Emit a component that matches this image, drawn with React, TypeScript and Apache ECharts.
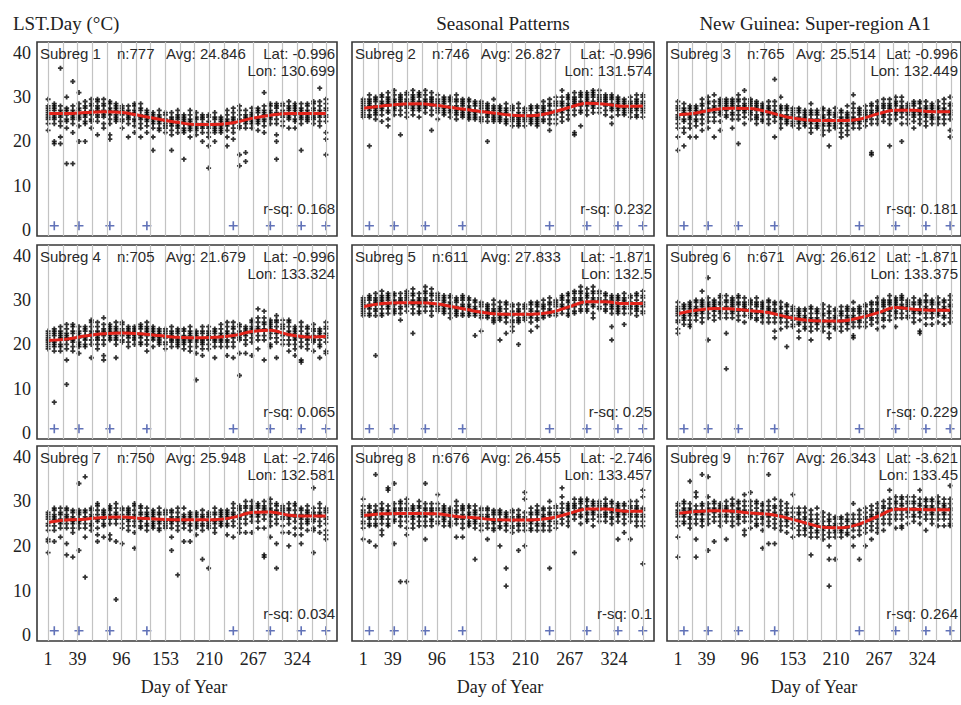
import React, { useEffect, useRef } from "react";
import * as echarts from "echarts";

// ---- axes / marks ----
const COMPOSITE_DAYS = [1, 9, 17, 25, 33, 41, 49, 57, 65, 73, 81, 89, 97, 105, 113, 121, 129, 137, 145, 153, 161, 169, 177, 185, 193, 201, 209, 217, 225, 233, 241, 249, 257, 265, 273, 281, 289, 297, 305, 313, 321, 329, 337, 345, 353, 361];
const GRID_LINE_DAYS = [1, 20, 39, 58, 77, 96, 115, 134, 153, 172, 191, 210, 229, 248, 267, 286, 305, 324, 343, 362];
const X_TICK_LABELS = [1, 39, 96, 153, 210, 267, 324];
const Y_TICK_LABELS = [0, 10, 20, 30, 40];
const EVENT_DAYS = [9, 41, 81, 129, 241, 289, 329, 361];
const EVENT_LEVEL = 1;
const TREND_DAYS = [1, 25, 49, 73, 97, 121, 145, 169, 193, 217, 241, 265, 289, 313, 337, 361];

// ---- panel info ----
const SUBREG = [1, 2, 3, 4, 5, 6, 7, 8, 9];
const N_OBS = [777, 746, 765, 705, 611, 671, 750, 676, 767];
const AVG = ["24.846", "26.827", "25.514", "21.679", "27.833", "26.612", "25.948", "26.455", "26.343"];
const LAT = ["-0.996", "-0.996", "-0.996", "-0.996", "-1.871", "-1.871", "-2.746", "-2.746", "-3.621"];
const LON = ["130.699", "131.574", "132.449", "133.324", "132.5", "133.375", "132.581", "133.457", "133.45"];
const RSQ = ["0.168", "0.232", "0.181", "0.065", "0.25", "0.229", "0.034", "0.1", "0.264"];

// ---- fitted seasonal curves (red) ----
const TREND_1 = [26.3, 26.3, 26.5, 26.7, 26.5, 25.8, 25.0, 24.3, 23.8, 23.8, 24.2, 25.2, 25.9, 26.3, 26.3, 26.3];
const TREND_2 = [27.5, 28.0, 28.4, 28.5, 28.1, 27.5, 26.9, 26.4, 25.9, 25.8, 26.4, 27.6, 28.6, 28.4, 27.9, 28.0];
const TREND_3 = [26.0, 26.4, 27.2, 27.5, 27.4, 26.6, 25.5, 24.9, 24.7, 24.7, 25.0, 26.2, 27.0, 27.0, 26.7, 26.7];
const TREND_4 = [20.9, 21.2, 21.9, 22.4, 22.6, 22.4, 22.0, 21.6, 21.5, 21.6, 22.0, 22.9, 23.2, 22.2, 21.7, 21.8];
const TREND_5 = [28.5, 29.2, 29.4, 29.4, 29.1, 28.3, 27.5, 26.9, 26.8, 26.8, 27.2, 28.4, 29.6, 29.6, 29.2, 29.2];
const TREND_6 = [26.9, 27.7, 28.1, 28.0, 27.6, 27.2, 26.2, 25.5, 25.3, 25.3, 26.0, 27.1, 28.3, 27.9, 27.7, 27.7];
const TREND_7 = [25.3, 25.8, 26.0, 26.4, 26.5, 26.2, 26.0, 25.9, 25.9, 25.9, 26.4, 27.5, 27.6, 26.9, 26.7, 26.7];
const TREND_8 = [26.8, 27.2, 27.3, 27.3, 27.2, 26.6, 26.3, 25.9, 25.8, 25.8, 26.2, 27.2, 28.3, 28.3, 27.8, 27.8];
const TREND_9 = [27.3, 27.7, 27.9, 27.8, 27.4, 27.1, 26.3, 25.2, 24.2, 24.1, 24.9, 26.6, 28.2, 28.2, 28.1, 28.1];

// ---- observations: one group per 8-day composite (COMPOSITE_DAYS), values in °C ----
const OBS_1 = "29.5 28 27.5 27 26.5 26 25.5 25 24 22.5|28.5 28 27.5 27 26 25.5 25 24 20 19.5|36.5 28 27 26.5 26 25.5 24.5 23.5 21 19.5|30 27.5 27 26.5 26 25 24.5 23 15|33.5 28 27 26.5 26 25.5 25 24 22 15|31 28.5 27.5 27 26 25.5 25 23.5 20|29 28 27.5 26.5 26 25.5 24.5 24 20|29.5 28.5 28 27 26.5 26 25 24.5 23|29.5 29 28 27.5 27 26 25.5 24.5 21.5|29.5 28.5 28 27 26.5 26 25.5 24 23|29 28.5 27.5 27 26.5 26 25 24 21.5 20.5|28.5 28 27.5 27 26 25.5 25 24.5|28 27.5 27 26.5 26 25 24.5 23|28 27 26.5 26 25.5 25 24 21|28.5 28 27 26.5 26 25 24.5 23.5 22|28.5 27.5 27 26 25.5 25 24 23 21|27 26.5 26 25.5 25 24.5 23.5 22|26.5 26 25.5 25 24.5 24 23 21 18|27 26 25.5 25 24.5 24 23 22.5|26.5 26 25 24.5 24 23.5 23 22|26.5 25.5 25 24.5 24 23.5 22.5 21.5 18|27 26 25.5 25 24 23.5 23 22|26 25.5 25 24.5 24 23 22.5 22 16|27 26 25 24.5 24 23.5 23 22.5 21|26.5 25.5 25 24 23.5 23 22.5 21.5|26 25.5 25 24 23.5 23 22 20|26 25.5 24.5 24 23.5 23 22 21 19 14|26.5 25.5 25 24 23.5 23 22.5 22 20|25.5 25 24.5 24 23.5 23 22.5 22|27 26 25 24.5 24 23.5 22.5 21 19|27.5 26.5 25.5 25 24.5 24 23 22 20.5|28 27 26 25 24.5 23.5 23 17 14.5|27 26 25.5 25 24.5 24 23 17.5 15.5|27.5 26.5 26 25.5 25 24.5 24 23|27.5 27 26.5 25.5 25 24.5 24 22.5|31 28 27 26.5 26 25 24.5 23.5 22|28.5 28 27 26.5 26 25.5 25 24|28.5 28 27.5 26.5 26 25 24 21.5 20 16|28.5 28 27 26.5 26 25.5 24.5 23.5|29 28 27.5 27 26 25.5 25 23|28.5 28 27.5 27 26.5 26 25 24.5 23|28.5 27.5 27 26.5 26 25.5 25 24 18|28.5 28 27 26.5 26 25.5 25 24.5|29 28.5 27.5 27 26 25.5 25 24|32 29 28 27 26.5 26 25.5 24.5 23.5|29.5 28.5 27.5 27 26 25.5 24.5 22 20.5 17";
const OBS_2 = "29.5 29 28.5 28 27.5 27 26.5 26 25.5|30.5 29.5 29 28.5 28 27.5 27 26 25.5 19|30 29.5 29 28 27.5 27 26.5 26 25|30.5 30 29 28.5 28 27.5 27 26 24.5|31 30 29.5 29 28.5 28 27 26.5 25 23.5|31.5 30.5 29.5 29 28.5 28 27.5 27 26|30.5 30 29.5 29 28.5 28 27 26 21.5|31 30.5 29.5 29 28.5 28 27.5 26.5 25.5|31.5 30.5 30 29.5 29 28 27.5 27 26|31 30.5 30 29 28.5 28 27.5 27 25.5|31.5 30.5 29.5 29 28.5 28 27.5 26.5|31 30 29.5 29 28.5 28 27 26 22.5|30.5 29.5 29 28.5 28 27.5 27 26.5 25|30 29.5 29 28.5 27.5 27 26.5 26|30 29.5 29 28 27.5 27 26.5 25.5|30.5 29.5 29 28 27.5 27 26.5 26 25|29.5 29 28.5 28 27 26.5 26 25.5|29.5 29 28 27.5 27 26.5 26 25.5 25|29 28.5 28 27 26.5 26 25.5 25|29 28.5 28 27.5 27 26.5 25.5 25 24.5|28.5 28 27.5 27 26.5 26 25.5 24.5 20|29.5 28 27.5 27 26 25.5 25 24.5|28 27.5 27 26.5 26 25.5 25 24.5|28.5 27.5 27 26.5 26 25 24.5 24|28 27.5 27 26 25.5 25 24.5 23.5|28.5 27.5 26.5 26 25.5 25 24.5 24 23.5|27.5 27 26.5 26 25.5 25 24.5 23.5|28 27.5 27 26 25.5 25 24.5 24|28 27.5 26.5 26 25.5 25 24.5 24 23.5|29 28 27.5 27 26.5 26 25 24.5|29.5 28.5 28 27 26.5 26 25 24 22.5|30 29 28.5 28 27 26.5 26 25 24|31.5 30 29 28.5 28 27 26.5 25.5 24.5|30.5 30 29.5 28.5 28 27.5 27 26 25|31 30 29.5 29 28.5 28 27 26 22 21.5|31 30.5 30 29 28.5 28 27 26.5 23.5|31 30.5 30 29.5 29 28.5 28 27 26|31.5 31 30.5 30 29 28.5 28 27.5 26.5|31.5 30.5 30 29.5 29 28.5 27.5 26.5|30.5 30 29.5 29 28.5 28 27 26|30.5 30 29.5 28.5 28 27.5 27 25.5 24|30 29.5 29 28.5 28 27.5 27 26|29.5 29 28.5 28 27.5 27 26.5 26|30 29 28.5 28 27.5 27 26.5 25.5|30.5 29.5 29 28.5 28 27.5 27 26 25.5|30.5 30 29 28.5 28 27.5 27 26.5 25.5";
const OBS_3 = "29 28 27.5 27 26 25.5 25 24 23 21 18|28.5 27.5 27 26.5 26 25 24.5 23 22 19|28 27.5 27 26 25.5 25 24 23 21|28 27.5 27 26.5 26 25 24.5 23.5 21|29.5 28.5 28 27 26.5 26 25 24 22.5|30 29 28.5 27.5 27 26.5 25.5 24.5 23|30.5 29 28 27.5 27 26.5 25.5 24.5 21|29.5 29 28.5 28 27 26.5 26 24.5 22.5|29.5 29 28.5 28 27.5 27 26 25.5|29.5 29 28.5 28 27.5 26.5 26 25 23|30.5 29.5 29 28 27.5 27 26 25 19.5|31.5 29.5 28.5 28 27.5 27 26.5 25.5 24|29.5 29 28.5 28 27 26.5 26 25|29 28.5 28 27.5 27 26 25.5 25 24|28.5 28 27.5 27 26.5 26 25 24.5|29 28 27.5 27 26.5 26 25 24|34 29 28 27 26.5 26 25.5 24.5 21|30 28 27.5 27 26 25.5 25 24 23|28 27.5 27 26 25.5 25 24.5 24|27.5 27 26.5 26 25.5 24.5 24 23.5|27.5 27 26.5 25.5 25 24.5 24 23|27 26.5 26 25.5 25 24.5 24 23.5|28.5 27 26.5 26 25 24.5 24 23 22|27 26.5 26 25 24.5 24 23.5 23|27.5 27 26 25.5 25 24 23.5 22.5 21.5|27 26.5 26 25 24.5 24 23.5 22.5 19|27.5 26.5 26 25.5 24.5 24 23.5 23|27 26.5 25.5 25 24.5 24 23 22 21|28 26.5 26 25.5 25 24 23.5 22.5 21.5|30.5 28.5 27.5 26.5 25.5 25 24.5 24 23|27.5 27 26.5 26 25 24.5 24 23|28 27 26.5 26 25.5 25 24.5 23.5|28.5 28 27 26.5 26 25 24 17.5 17|29 28 27.5 27 26.5 26 25 24|29.5 28.5 28 27.5 26.5 26 25.5 24.5|29.5 28.5 28 27.5 27 26 25 24 19|30 29 28.5 28 27 26.5 26 25|30 29 28 27.5 27 26.5 25.5 24 20|28.5 28 27.5 27 26.5 26 25 24|29 28.5 28 27 26.5 26 25.5 24.5 23|29 28.5 27.5 27 26.5 26 25 24|29 28 27.5 27 26.5 26 25.5 24.5 23.5|28.5 28 27.5 27 26 25.5 25 24|29 28 27.5 27 26.5 25.5 25 24|29.5 28.5 27.5 27 26.5 26 25 24|30 28.5 28 27 26.5 26 25 22.5 21";
const OBS_4 = "23 22.5 22 21.5 21 20.5 20 19.5 19|23.5 23 22.5 22 21 20.5 20 19.5 18.5 7|24 23 22.5 22 21.5 21 20 19.5 18.5|24.5 23.5 22.5 22 21.5 21 20 19 16.5 11|24.5 24 23 22.5 21.5 21 20.5 19.5 18.5|24 23 22.5 22 21.5 20.5 20 19.5 18|24 23.5 23 22 21.5 21 20 19.5|25.5 25 24 23 22.5 22 21 20 17|25 24 23 22.5 22 21.5 21 20 19|26 24.5 23.5 23 22.5 22 21 20 17.5 16.5|24.5 24 23.5 23 22.5 22 21.5 21|25 24 23.5 23 22 21.5 21 20 17|25 24.5 23.5 23 22.5 22 21 20.5|24 23.5 23 22.5 22 21.5 20.5 19.5|24 23.5 23 22.5 22 21.5 21 20|24.5 24 23.5 22.5 22 21.5 20.5 20|25 24 23.5 23 22.5 22 21 20 18.5|24 23.5 23 22.5 22 21.5 21 19.5|23.5 23 22.5 22 21.5 21 20.5 20|23.5 23 22.5 22 21.5 20.5 20 19|24 23 22.5 22 21.5 21 20.5 19.5|23.5 23 22.5 21.5 21 20.5 20 19.5|23.5 23 22 21.5 21 20.5 20 19|24 23 22.5 22 21 20.5 19.5 18.5|23 22.5 22 21.5 21 20.5 19.5 18 12|24 23 22.5 21.5 21 20.5 20 19 17.5|24 23 22.5 22 21.5 21 20 19|23.5 23 22.5 21.5 21 20.5 19.5 17|24.5 23.5 22.5 22 21.5 21 20.5 19.5|25 24 23 22.5 22 21 20.5 19.5 17.5|25 24 23.5 22.5 22 21.5 20.5 19.5 17|24.5 24 23 22.5 22 21.5 21 18 13|24 23.5 23 22.5 22 21 20 18|25.5 25 24 23.5 23 22.5 21.5 20.5 17.5|28 26 25 24 23.5 23 22 21 19|27.5 26 25 24.5 23.5 23 22 21 16.5|25.5 25 24.5 24 23.5 22.5 21.5 20 19.5|26.5 25.5 25 24 23 22.5 21.5 20.5 17|25.5 24.5 24 23.5 22.5 22 21 20|25.5 25 24 23 22.5 22 21 20 18.5|24 23.5 23 22.5 21.5 21 20 19 17.5|25 24 23 22 21.5 20.5 19.5 16.5 16|24 23.5 22.5 22 21.5 21 20 19|24.5 23.5 23 22 21.5 21 20.5 18.5|23.5 23 22.5 22 21 20 19.5 17|25 24 23.5 22.5 22 21.5 20.5 18.5 18";
const OBS_5 = "30.5 30 29.5 29 28.5 28 27.5 27 26.5|31 30.5 30 29 28.5 28 27 26.5|31.5 30.5 30 29.5 29 28 27.5 26.5 17.5|32 31 30.5 30 29.5 29 28 27 26.5|31.5 31 30.5 30 29 28.5 28 27|31.5 31 30 29.5 29 28 27.5 27|31.5 30.5 30 29.5 28.5 28 27 25.5|32 31.5 31 30.5 30 29 28.5 27.5|32.5 31.5 31 30 29.5 29 28 27 22.5|31.5 30.5 30 29.5 29 28.5 27.5 27|33 32 31.5 30.5 30 29.5 28.5 27.5|32.5 31.5 31 30 29 28.5 27.5 26.5|31.5 31 30.5 30 29 28.5 28 27.5|31 30.5 30 29.5 28.5 28 27.5 27|31 30.5 29.5 29 28.5 28 27 26|30.5 30 29.5 28.5 28 27.5 27 26.5|31 30.5 30 29 28.5 28 27 26.5|30.5 30 29 28.5 28 27.5 27 26.5|30 29.5 28.5 28 27.5 27 26.5 22|29.5 29 28.5 27.5 27 26.5 26 23|29 28.5 28 27.5 27 26.5 26|30 29 28 27.5 27 26 25.5 25|29.5 28.5 28 27.5 26.5 26 25.5 21|29.5 29 28 27 26.5 26 25 22.5|29 28.5 27.5 27 26.5 25.5 25 24 23|29 28 27.5 27 26 25.5 25 20|29 28.5 28 27 26.5 26 25.5|29.5 29 28 27.5 26.5 26 25 23|29.5 29 28.5 27.5 27 26 25.5 24|30 29 28.5 28 27 26.5 26|30.5 29.5 29 28 27.5 27 26.5|30 29.5 29 28.5 27.5 27 26.5|31 30.5 30 29 28.5 28 27|31.5 31 30 29.5 28.5 28 27 26.5|32 31.5 30.5 30 29 28.5 27.5 27|33 32 31.5 30.5 30 29 28 27.5|32.5 31.5 31 30.5 29.5 29 28 27.5|33 32 31.5 30.5 30 29 28.5 27 26|32 31.5 30.5 30 29.5 28.5 28|31.5 31 30 29.5 29 28 27.5|31 30.5 30 29 28.5 28 27 24 21|31 30.5 30 29 28.5 28 27.5 27|31.5 30.5 30 29.5 28.5 28 27 24.5|31 30.5 29.5 29 28.5 28 27|31.5 31 30 29 28.5 28 27.5 26.5|32 31 30.5 29.5 29 28.5 27.5 27";
const OBS_6 = "29.5 28.5 28 27.5 27 26.5 25.5 25 23.5 22.5|29 28.5 28 27 26.5 26 25.5 24.5|29.5 29 28.5 28 27 26.5 25.5 24.5 24|30 29.5 28.5 28 27.5 27 26.5 25.5|32 30 29.5 29 28.5 27.5 27 26 25|35 30.5 29.5 29 28.5 28 27 26 21|30 29.5 29 28.5 28 27.5 26.5 25.5|31 30.5 29.5 29 28 27.5 27 26|31 30 29.5 28.5 28 27 26 22.5 14.5|30.5 30 29.5 29 28.5 27.5 27 26|31 30.5 29.5 29 28 27.5 26.5 25.5|30.5 29.5 29 28.5 28 27.5 26.5 25|30 29.5 29 28 27.5 27 26.5 26|30.5 29.5 29 28.5 27.5 27 26 25.5|29.5 29 28.5 28 27 26.5 26 25|30 29.5 28.5 28 27.5 27 26 25|29.5 29 28 27.5 27 26 25 23 21.5|29.5 28.5 28 27 26.5 26 25 23.5|29 28.5 27.5 27 26.5 26 25 24 19.5|28.5 28 27.5 26.5 26 25.5 24.5 24|28 27.5 27 26.5 26 25 24.5 23 21.5|28 27.5 26.5 26 25.5 25 24 23.5|28.5 28 27 26 25.5 25 24 23 21|28 27.5 27 26 25.5 25 24.5 23.5|29 28 27 26.5 25.5 25 24 23|28.5 27.5 27 26 25 24.5 24 22.5 21.5|28 27.5 26.5 26 25.5 25 24 23.5|28.5 27.5 27 26.5 25.5 25 24 23|28.5 28 27.5 26.5 26 25 24.5 23.5|29.5 28 27.5 26.5 26 25 24 22 21.5|28.5 28 27.5 27 26 25.5 25 24|29 28.5 27.5 27 26.5 26 25 24|29.5 29 28 27.5 27 26 25.5 24.5|30.5 29.5 29 28 27.5 27 26 25 23.5|30 29.5 29 28.5 27.5 27 26 25.5 24|31 30 29.5 29 28 27.5 26.5 25.5|30.5 30 29.5 29 28.5 27.5 27 26 24|31 30.5 30 29 28.5 28 27 26|30 29.5 29 28.5 28 27.5 26.5 26|30.5 29.5 29 28 27.5 27 26 25|30 29.5 29 28 27.5 27 25.5 23 22.5|31 30 29.5 28.5 28 27 26 24.5|30 29.5 29 28 27.5 27 26 24.5|30.5 29.5 29 28 27.5 27 26.5 25|30 29.5 28.5 28 27.5 26.5 26 24.5|31 30 29 28.5 27.5 27 26 25";
const OBS_7 = "27.5 27 26.5 26 25 24.5 23.5 21.5 21 18.5|28.5 28 27 26.5 26 25.5 24.5 23.5 21|28.5 27.5 27 26 25.5 25 24 22|28.5 28 27 26.5 26 25 24 20.5 18|28 27.5 26.5 26 25.5 25 24 23 17.5|34 28 27.5 27 26 25.5 25 24 19|35.5 28 27.5 26.5 26 25 24 22 13|28.5 28 27 26.5 26 25 24.5 23.5|29.5 29 28 27 26 25.5 24 22.5 21|28 27.5 27 26.5 26 25 24.5 22|29 28.5 28 27 26.5 26 25 22.5 21.5|29.5 28.5 27.5 27 26.5 26 25 21 8|28.5 28 27 26.5 26 25 24 20.5|28.5 28 27.5 27 26 25.5 24.5 23.5|29.5 29 28 27 26.5 25.5 24.5 23 19.5|29 28.5 27.5 27 26 25.5 24.5 24|28.5 27.5 27 26.5 26 25 24.5 23.5|28 27.5 27 26.5 25.5 25 24.5 24|28.5 27.5 27 26 25.5 25 24 23.5|28 27.5 27 26 25.5 25 24.5 24|28 27.5 26.5 26 25.5 25 24 22 19|28.5 27.5 26.5 26 25.5 24.5 23.5 13.5|28.5 27 26.5 26 25.5 25 24 21|27.5 27 26.5 26 25 24.5 23.5 21|27.5 27 26.5 25.5 25 24.5 24 22.5|28 27 26.5 26 25 24.5 23.5 17|27.5 27 26.5 25.5 25 24.5 24 15|28.5 27.5 27 26 25.5 25 24 23|28 27.5 27 26.5 25.5 25 24.5|28 27.5 27 26.5 26 25 24.5 22.5|29.5 28.5 27.5 27 26.5 25.5 24.5 22|29 28.5 28 27 26.5 26 25 24 23|30 29 28.5 27.5 27 26 25 23|30 29 28.5 28 27 26.5 25.5 23|29.5 29 28.5 27.5 27 26.5 25.5 24|30 29 28.5 28 27 26 24 18 17.5|30.5 29.5 28.5 28 27 26.5 25.5 24.5 22|29.5 29 28 27.5 27 26 25 20.5 15|29 28.5 28 27.5 26.5 26 24.5 23|29.5 28.5 28 27 26.5 26 25 23 20|29.5 29 28 27 26.5 25.5 24 22.5|28.5 28 27 26.5 26 25 24 22.5 20.5|29 28 27.5 27 26 25.5 25 23.5|33 28.5 27.5 27 26 25.5 24 23.5 18.5|29.5 28.5 27.5 27 26.5 25.5 24.5 23|28.5 28 27.5 26.5 26 25 23.5 22.5 21.5";
const OBS_8 = "30.5 29 28 27.5 27 26.5 25.5 25 24 21.5|29 28.5 27.5 27 26.5 26 25 24.5 21|36 29 28 27.5 27 26 25 24.5 20|29.5 28.5 28 27 26.5 26 25 23.5 22.5|33 32.5 29 28 27.5 27 26 25 24.5|34 29.5 28.5 28 27.5 27 26 25.5 20.5|30 29.5 28.5 28 27 26.5 25.5 24.5 12|30.5 29.5 28.5 28 27 26.5 25.5 24 22.5 12|29 28.5 28 27 26.5 26 25 24|30 29 28.5 27.5 27 26.5 25.5 24.5|34 29.5 28.5 28 27 26.5 25.5 24.5 21.5|29.5 28.5 28 27.5 27 26 25.5 24.5|31.5 29.5 28.5 28 27 26.5 25.5 25|29 28.5 28 27.5 26.5 26 25.5 24.5|28.5 28 27.5 27 26.5 25.5 25 24.5|30 29 28 27.5 26.5 26 25 22|29 28.5 28 27 26.5 26 25 24 22|29 28.5 27.5 27 26.5 25.5 25 24.5|29 28 27.5 27 26 25.5 25 24 17|28.5 28 27 26.5 26 25 24.5 23.5|28.5 28 27 26.5 26 25 24 21.5|28 27.5 27 26 25.5 25 24 23.5|28 27.5 27 26 25.5 24.5 24 20|27.5 27 26.5 26 25 24.5 23.5 15 11|28 27.5 26.5 26 25.5 24.5 24 23|28 27 26.5 26 25 24.5 23.5 19|32 30.5 27.5 26.5 26 25 24.5 23.5 20|28.5 27.5 27 26 25.5 25 24 23.5|29 28 27.5 27 26 25 24.5 23.5|28.5 28 27 26.5 26 25 24.5 23.5|30 28.5 27.5 27 26 25.5 24.5 23.5 15|29 28.5 27.5 27 26.5 25.5 25 24|33 31 29.5 28.5 27.5 27 26 25|29.5 29 28.5 28 27 26.5 25.5 24.5|30.5 29.5 29 28.5 27.5 27 26 18.5|30.5 30 29.5 28.5 28 27 26.5 25|30.5 30 29 28.5 27.5 27 26 25.5|30 29.5 29 28 27.5 27 26 24.5|30 29.5 29 28.5 28 27 26.5 25.5|30.5 29.5 29 28.5 27.5 27 26.5 25.5|30 29.5 28.5 28 27.5 26.5 26 25|29.5 29 28.5 27.5 27 26.5 25.5 21.5|29.5 29 28 27.5 27 26 25 23|30 29 28.5 27.5 27 26.5 25.5 21.5|30 29 28.5 28 27 26.5 25.5 24.5|32.5 31 28.5 28 27 26.5 25.5 24.5 16";
const OBS_9 = "29.5 29 28 27.5 27 26.5 25.5 24.5 22 17.5|30 29.5 28.5 28 27 26.5 25.5 25|34.5 29.5 28.5 28 27.5 26.5 26 25 24|32 31 29 28 27.5 27 26 25 21.5 17.5|36 29.5 29 28 27.5 27 26 25.5 24.5|35.5 31 29.5 28.5 28 27 26 25 19|30 29.5 28.5 28 27.5 26.5 25.5 21|29.5 29 28.5 28 27 26.5 25.5 24.5|30 29 28.5 28 27 26.5 25.5 21.5|30.5 29.5 29 28 27.5 26.5 25.5 24.5|30 29.5 28.5 28 27 26.5 26 25|31.5 30 29 28 27.5 26.5 25.5 23.5 22.5|32 30 29 28 27 26.5 25.5 24|30 29.5 28.5 27.5 27 26 25 24.5|29.5 29 28 27.5 26.5 26 25 23.5 19.5|36 30 29 28 27 26.5 25.5 24.5 20.5|30.5 29 28.5 27.5 27 26 25 24 20.5|30 29 28 27 26.5 25.5 24.5 23.5|29.5 28.5 27.5 27 26 25.5 24.5 23|31.5 28.5 27.5 26.5 26 25 24 22|28.5 27.5 27 26 25.5 24.5 23.5 22.5|28.5 27.5 26.5 26 25 24 23.5 22.5|28 27 26 25.5 24.5 24 23 22 18|28.5 27 26 25 24.5 23.5 23 22|27.5 26.5 25.5 24.5 24 23.5 22.5 21.5|27 26 25.5 24.5 24 23 22 20 17 11|26.5 26 25 24.5 23.5 23 22 17|26.5 26 25 24 23.5 23 22|27 26 25.5 24.5 24 23 22.5|29.5 27 26 25 24.5 23.5 22 20|28 27 26 25 24.5 23.5 22.5 17|28.5 27.5 26.5 26 25 24 23 20|29 28 27 26.5 25.5 24.5 23.5 21.5|29.5 28.5 27.5 27 26 25 24 23|30 29 28.5 27.5 27 26 25 23.5|32.5 30.5 29.5 28.5 28 27 26 25|31 30 29.5 28.5 28 27 26 24|31 30.5 29.5 29 28 27 26 24.5 24|31 30 29.5 28.5 28 27.5 26.5 25|31 30 29.5 28.5 28 27 26.5 25.5|32.5 30.5 29.5 29 28 27.5 26.5 25|30.5 30 29 28.5 28 27 26 23.5|30.5 30 29 28.5 27.5 27 26 25|31 30 29.5 28.5 28 27 26 24.5|30.5 29.5 29 28.5 27.5 27 26 24.5|33.5 30.5 29.5 28.5 28 27 26 25 24.5";

const OBS = [OBS_1, OBS_2, OBS_3, OBS_4, OBS_5, OBS_6, OBS_7, OBS_8, OBS_9];
const TRENDS = [TREND_1, TREND_2, TREND_3, TREND_4, TREND_5, TREND_6, TREND_7, TREND_8, TREND_9];

// ---- layout ----
const COL_LEFT = [37, 352, 667];
const COL_WIDTH = [300, 302, 300];
const ROW_TOP = [42, 245, 446];
const ROW_HEIGHT = [194, 194, 195];
const X_MIN = -13.4;
const X_MAX = 375.4;
const Y_MIN = -1.3;
const Y_MAX = 42.4;
const VISIBLE_RIGHT = 958;

const SERIF = '"Liberation Serif", "Times New Roman", serif';
const SANS = '"Liberation Sans", Arial, sans-serif';
const POINT_SYMBOL = "path://M1.6,0H3.4V1.6H5V3.4H3.4V5H1.6V3.4H0V1.6H1.6Z";
const EVENT_SYMBOL = "path://M4.1,0H5.9V4.1H10V5.9H5.9V10H4.1V5.9H0V4.1H4.1Z";

function parseObs(s: string): number[][] {
  const cols = s.split("|");
  const out: number[][] = [];
  cols.forEach((c, k) => {
    c.trim().split(/\s+/).forEach((v) => out.push([COMPOSITE_DAYS[k], Number(v)]));
  });
  return out;
}

function buildOption() {
  const grid: any[] = [];
  const xAxis: any[] = [];
  const yAxis: any[] = [];
  const series: any[] = [];
  const graphic: any[] = [];

  for (let i = 0; i < 9; i++) {
    const r = Math.floor(i / 3);
    const c = i % 3;
    const left = COL_LEFT[c];
    const width = COL_WIDTH[c];
    const top = ROW_TOP[r];
    const height = ROW_HEIGHT[r];
    grid.push({
      left, top, width, height,
      show: true, borderColor: "#383838", borderWidth: 1.6, backgroundColor: "transparent",
      containLabel: false,
    });
    xAxis.push({
      gridIndex: i, type: "value", min: X_MIN, max: X_MAX,
      axisLine: { show: false }, axisTick: { show: false }, splitLine: { show: false },
      axisLabel: r === 2
        ? { show: true, customValues: X_TICK_LABELS, fontFamily: SERIF, fontSize: 18, color: "#222", margin: 9 }
        : { show: false },
    });
    yAxis.push({
      gridIndex: i, type: "value", min: Y_MIN, max: Y_MAX,
      axisLine: { show: false }, axisTick: { show: false }, splitLine: { show: false },
      axisLabel: c === 0
        ? { show: true, customValues: Y_TICK_LABELS, fontFamily: SERIF, fontSize: 18, color: "#222", margin: 6 }
        : { show: false },
    });
    series.push({
      type: "scatter", xAxisIndex: i, yAxisIndex: i, z: 1, silent: true,
      symbol: EVENT_SYMBOL, symbolSize: 9,
      itemStyle: { color: "#3a4fa6" },
      data: EVENT_DAYS.map((d) => [d, EVENT_LEVEL]),
      markLine: {
        silent: true, symbol: ["none", "none"], label: { show: false },
        lineStyle: { color: "#c3c3c3", width: 1.2, type: "solid" },
        emphasis: { disabled: true },
        data: GRID_LINE_DAYS.map((d) => ({ xAxis: d })),
      },
    });
    series.push({
      type: "scatter", xAxisIndex: i, yAxisIndex: i, z: 2, silent: true,
      symbol: POINT_SYMBOL, symbolSize: 5,
      itemStyle: { color: "#000" },
      data: parseObs(OBS[i]),
    });
    series.push({
      type: "line", xAxisIndex: i, yAxisIndex: i, z: 3, silent: true,
      smooth: 0.35, showSymbol: false,
      lineStyle: { color: "#e2231a", width: 3 },
      data: TREND_DAYS.map((d, k) => [d, TRENDS[i][k]]),
    });

    const txt = (text: string, x: number, y: number, align: string) => ({
      type: "text", x, y, silent: true, z: 10,
      style: { text, fontFamily: SANS, fontSize: 15, fill: "#2a2a2a", textAlign: align, textVerticalAlign: "middle" },
    });
    const right = Math.min(left + width - 2, VISIBLE_RIGHT);
    graphic.push(txt(`Subreg ${SUBREG[i]}`, left + 3, top + 11.5, "left"));
    graphic.push(txt(`n:${N_OBS[i]}`, left + 80, top + 11.5, "left"));
    graphic.push(txt(`Avg: ${AVG[i]}`, left + 129, top + 11.5, "left"));
    graphic.push(txt(`Lat: ${LAT[i]}`, right, top + 11.5, "right"));
    graphic.push(txt(`Lon: ${LON[i]}`, right, top + 28, "right"));
    graphic.push(txt(`r-sq: ${RSQ[i]}`, right, top + height - 28, "right"));
  }

  const serifText = (text: string, x: number, y: number, align: string, size: number) => ({
    type: "text", x, y, silent: true, z: 10,
    style: { text, fontFamily: SERIF, fontSize: size, fill: "#222", textAlign: align, textVerticalAlign: "middle" },
  });
  graphic.push(serifText("LST.Day (°C)", 13, 23, "left", 19));
  graphic.push(serifText("Seasonal Patterns", 503, 23, "center", 19));
  graphic.push(serifText("New Guinea: Super-region A1", 815, 23, "center", 19));
  for (let c = 0; c < 3; c++) {
    graphic.push(serifText("Day of Year", COL_LEFT[c] + COL_WIDTH[c] / 2 - 3, 687, "center", 18));
  }

  return {
    animation: false,
    backgroundColor: "#ffffff",
    grid, xAxis, yAxis, series, graphic,
  };
}

export default function App() {
  const ref = useRef<HTMLDivElement>(null);
  useEffect(() => {
    if (!ref.current) return;
    const chart = echarts.init(ref.current, undefined, { renderer: "svg" });
    chart.setOption(buildOption() as any);
    return () => chart.dispose();
  }, []);
  return (
    <div
      ref={ref}
      style={{ position: "fixed", left: 0, top: 0, width: 961, height: 705, background: "#fff" }}
    />
  );
}
